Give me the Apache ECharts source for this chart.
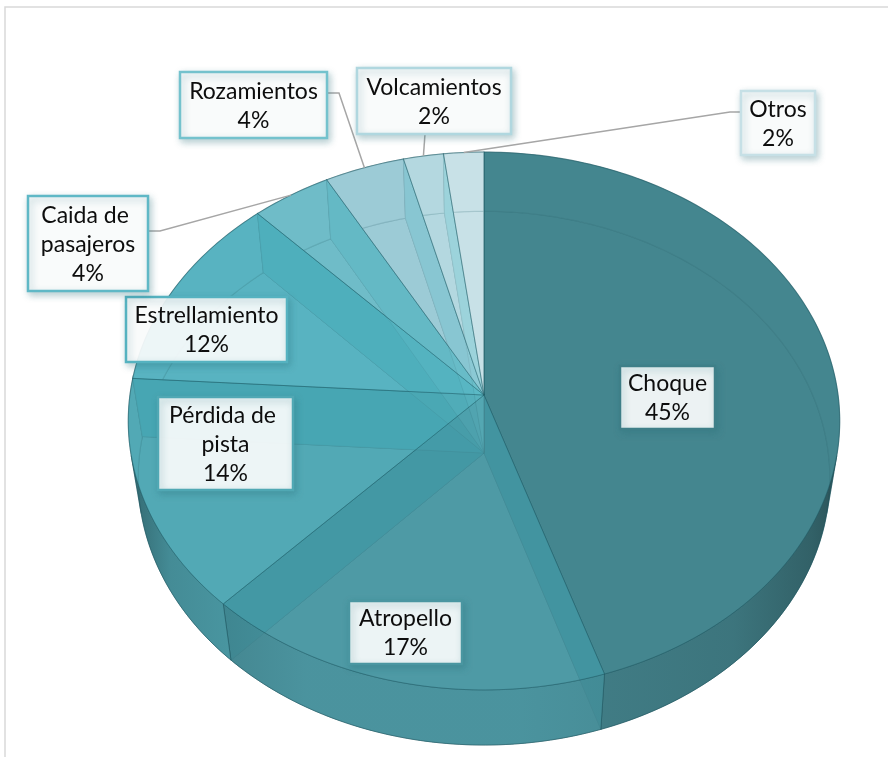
<!DOCTYPE html>
<html>
<head>
<meta charset="utf-8">
<script src="https://cdn.jsdelivr.net/npm/echarts@6.0.0/dist/echarts.min.js"></script>
<style>
html,body{margin:0;padding:0;background:#ffffff;}
#chart{width:888px;height:757px;}
</style>
</head>
<body>
<div id="chart"></div>
<script>
// ---------- data ----------
const categories = ['Choque', 'Atropello', 'Pérdida de pista', 'Estrellamiento', 'Caida de pasajeros', 'Rozamientos', 'Volcamientos', 'Otros'];
const values = [45, 17, 14, 12, 4, 4, 2, 2];
const sliceColors = ['#45868F', '#4E9AA5', '#52A9B5', '#58B3C1', '#6FBCC8', '#9CCBD6', '#B4D8E0', '#C8E1E7'];
const labelBorderColors = ['#3F7F88', '#4A96A1', '#50A8B4', '#55B2C0', '#5FB8C6', '#74C2CD', '#B0D7DF', '#C6E0E6'];

// ---------- layout (pixels, not data) ----------
const VIEW = { cx: 484, cy: 395, f: 2411, d: 6.81, tilt: 48.8, h: 0.256 };
// label boxes [x, y, w, h]
const labelBoxes = [
  [620, 366, 95, 63],
  [349, 601, 113, 63],
  [158, 397, 135, 93],
  [126, 297, 161, 65],
  [28, 196, 120, 95],
  [180, 72, 147, 66],
  [357, 68, 154, 66],
  [741, 91, 74, 64]
];
// leader lines: start point and elbow point (null = no leader)
const leaders = [
  null, null, null, null,
  { start: [148, 231], elbow: [160, 231] },
  { start: [327, 93], elbow: [339, 93] },
  { start: [425, 134], elbow: null },
  { start: [741, 112], elbow: [730, 112] }
];

const total = values.reduce((a, b) => a + b, 0);
const RAD = Math.PI / 180;
const sT = Math.sin(VIEW.tilt * RAD), cT = Math.cos(VIEW.tilt * RAD);

function proj(x, z, y) {
  const depth = VIEW.d + z * cT - y * sT;
  return [VIEW.cx + VIEW.f * x / depth, VIEW.cy - VIEW.f * (y * cT + z * sT) / depth];
}
function rim(phi, y, r) {
  r = r == null ? 1 : r;
  return proj(r * Math.sin(phi * RAD), r * Math.cos(phi * RAD), y);
}
function arc(a0, a1, y) {
  const n = Math.max(2, Math.ceil((a1 - a0) / 1));
  const pts = [];
  for (let k = 0; k <= n; k++) pts.push(rim(a0 + (a1 - a0) * k / n, y));
  return pts;
}
const F0 = Math.acos(-1 / (VIEW.d * cT)) / RAD;
const F1 = 360 - F0;

function rgb(hex) {
  const n = parseInt(hex.slice(1), 16);
  return [(n >> 16) & 255, (n >> 8) & 255, n & 255];
}
function scaled(hex, kr, kg, kb) {
  const c = rgb(hex);
  if (kg == null) { kg = kr; kb = kr; }
  return 'rgb(' + Math.round(c[0] * kr) + ',' + Math.round(c[1] * kg) + ',' + Math.round(c[2] * kb) + ')';
}
function frontGradient(hex) {
  return {
    type: 'linear', x: 128, y: 0, x2: 840, y2: 0, global: true,
    colorStops: [
      { offset: 0, color: scaled(hex, 0.55) },
      { offset: 0.06, color: scaled(hex, 0.8) },
      { offset: 0.25, color: scaled(hex, 0.95) },
      { offset: 0.55, color: scaled(hex, 0.95) },
      { offset: 0.85, color: scaled(hex, 0.85) },
      { offset: 0.96, color: scaled(hex, 0.68) },
      { offset: 1, color: scaled(hex, 0.55) }
    ]
  };
}
const EDGE = 'rgba(28,88,98,0.55)';

function renderItem(params, api) {
  const i = params.dataIndex;
  let before = 0;
  for (let j = 0; j < i; j++) before += values[j];
  const v = api.value(1);
  const a0 = before / total * 360;
  const a1 = (before + v) / total * 360;
  const col = sliceColors[i];
  const H = -VIEW.h;
  const O = proj(0, 0, 0), Ob = proj(0, 0, H);
  const children = [];

  // bottom face
  children.push({ type: 'polygon', z2: 1, shape: { points: [Ob].concat(arc(a0, a1, H)) },
    style: { fill: col, stroke: EDGE, lineWidth: 1 } });

  // outer wall pieces
  const pieces = [];
  if (a0 < F0) pieces.push([a0, Math.min(a1, F0), false]);
  if (a1 > F0 && a0 < F1) pieces.push([Math.max(a0, F0), Math.min(a1, F1), true]);
  if (a1 > F1) pieces.push([Math.max(a0, F1), a1, false]);
  pieces.forEach(p => {
    if (p[1] - p[0] <= 0) return;
    const pts = arc(p[0], p[1], 0).concat(arc(p[0], p[1], H).reverse());
    if (p[2]) {
      children.push({ type: 'polygon', z2: 4, shape: { points: pts },
        style: { fill: frontGradient(col), opacity: 0.86, stroke: 'rgba(30,80,90,0.5)', lineWidth: 1 } });
    } else {
      children.push({ type: 'polygon', z2: 2, shape: { points: pts },
        style: { fill: col, stroke: EDGE, lineWidth: 1.2 } });
    }
  });

  // radial walls
  [a0, a1].forEach(a => {
    children.push({ type: 'polygon', z2: 3, shape: { points: [O, rim(a, 0), rim(a, H), Ob] },
      style: { fill: scaled(col, 0.5, 0.88, 0.9), opacity: 0.9, stroke: 'rgba(28,88,98,0.3)', lineWidth: 1 } });
  });

  // top face
  children.push({ type: 'polygon', z2: 5, shape: { points: [O].concat(arc(a0, a1, 0)) },
    style: { fill: col, opacity: 0.7, stroke: EDGE, lineWidth: 1 } });

  // leader line
  const ld = leaders[i];
  if (ld) {
    const end = rim((a0 + a1) / 2, 0);
    const pts = [ld.start];
    if (ld.elbow) pts.push(ld.elbow);
    pts.push(end);
    children.push({ type: 'polyline', z2: 90, shape: { points: pts },
      style: { stroke: '#A6A6A6', lineWidth: 1.5, fill: null } });
  }

  // label box
  const b = labelBoxes[i];
  const pct = Math.round(v / total * 100) + '%';
  children.push({ type: 'rect', z2: 95, shape: { x: b[0], y: b[1], width: b[2], height: b[3] },
    style: { fill: 'rgba(255,255,255,0.9)', stroke: labelBorderColors[i], lineWidth: 2.5,
      shadowBlur: 7, shadowOffsetX: 2, shadowOffsetY: 3, shadowColor: 'rgba(40,110,120,0.35)' } });
  children.push({ type: 'text', z2: 100,
    style: { text: categories[i] + '\n' + pct, x: b[0] + b[2] / 2, y: b[1] + b[3] / 2 + 1,
      width: b[2] - 8, overflow: 'break',
      align: 'center', verticalAlign: 'middle', fill: '#0d0d0d',
      font: '23px Lato', lineHeight: 29 } });

  return { type: 'group', children: children };
}

const chart = echarts.init(document.getElementById('chart'), null, { renderer: 'canvas' });
chart.setOption({
  backgroundColor: '#ffffff',
  animation: false,
  graphic: [{
    type: 'rect', shape: { x: 5, y: 7, width: 920, height: 800 },
    style: { fill: null, stroke: '#D9D9D9', lineWidth: 1.5 }, z: -1
  }],
  series: [{
    type: 'custom',
    coordinateSystem: 'none',
    renderItem: renderItem,
    data: values.map((v, i) => [i, v])
  }]
});
</script>
</body>
</html>
